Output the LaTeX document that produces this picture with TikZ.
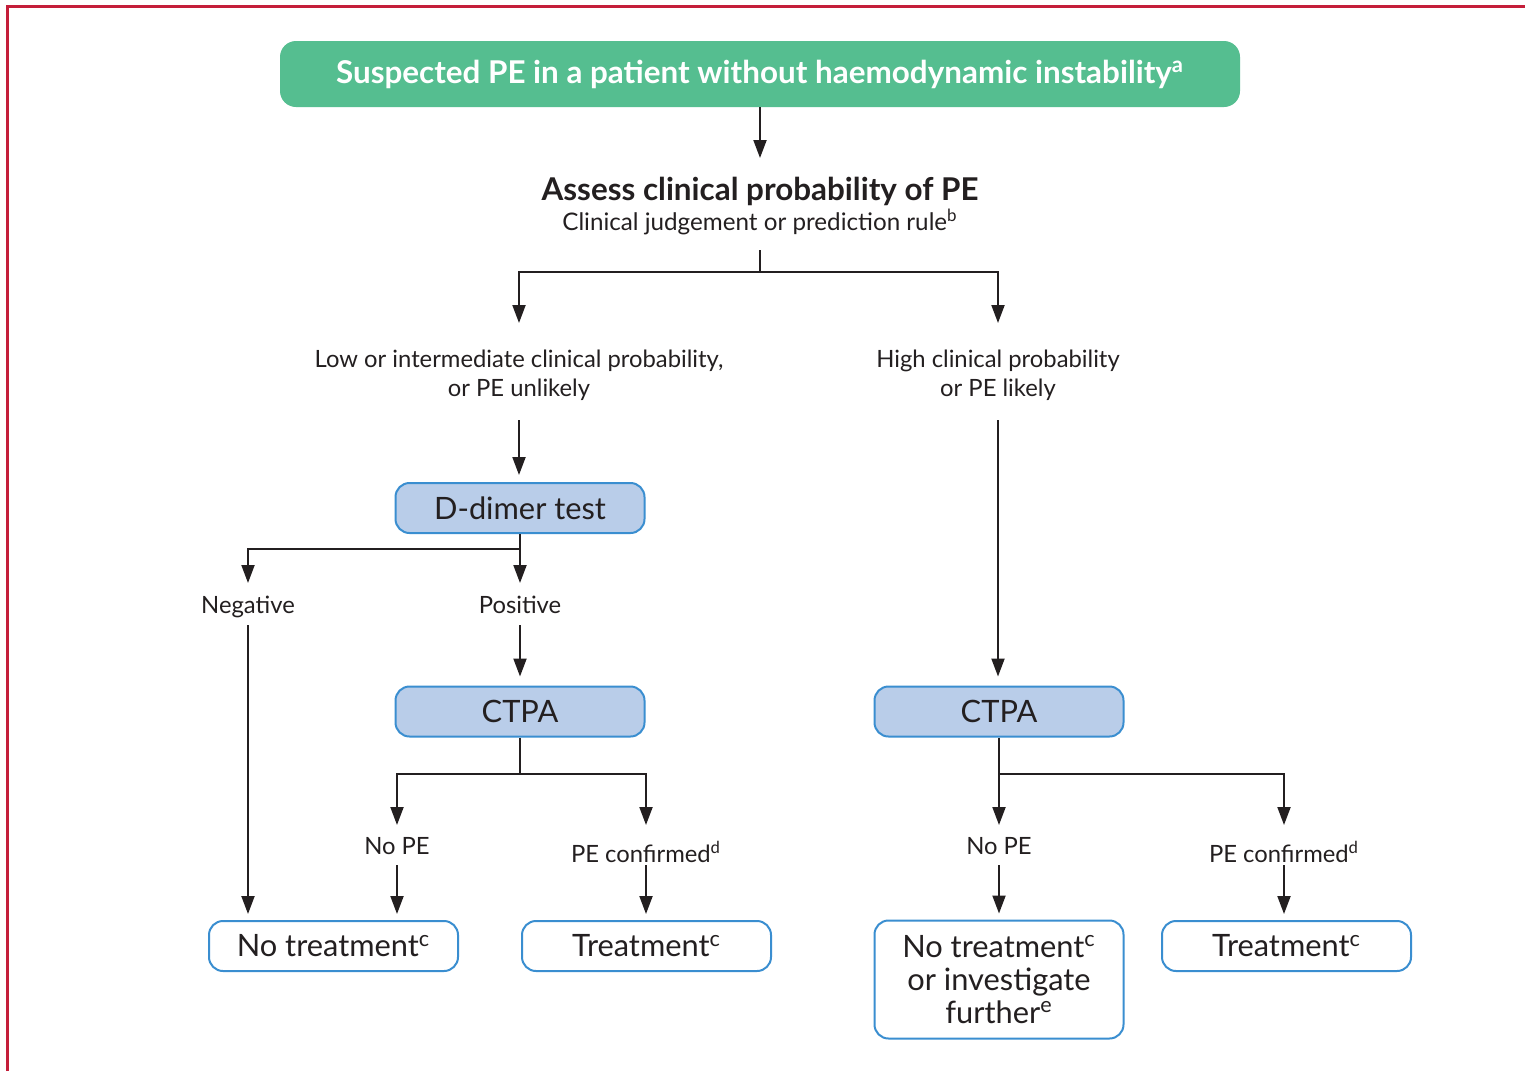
\documentclass[tikz,border=0pt]{standalone}
\usepackage{fontspec}
\setmainfont{Lato}
\usetikzlibrary{arrows.meta}
\definecolor{frameRed}{HTML}{C41E3A}
\definecolor{peGreen}{HTML}{55BE90}
\definecolor{boxFill}{HTML}{B9CDE9}
\definecolor{boxLine}{HTML}{3A8ED0}
\definecolor{ink}{HTML}{231F20}
\tikzset{
  arr/.style={draw=ink, line width=1pt, -{Triangle[length=9pt,width=6.5pt]}},
  ln/.style={draw=ink, line width=1pt},
  titlebox/.style={rectangle, rounded corners=8pt, fill=peGreen, draw=none,
    minimum width=480pt, minimum height=33pt, inner sep=0pt, text=white,
    font=\bfseries\fontsize{15.7}{18}\selectfont},
  bluebox/.style={rectangle, rounded corners=7pt, draw=boxLine, line width=1pt,
    fill=boxFill, minimum width=124.5pt, minimum height=25pt, inner sep=0pt,
    text=ink, align=center, font=\fontsize{15.4}{16.5}\selectfont},
  whitebox/.style={bluebox, fill=white},
  lbl/.style={font=\fontsize{11.9}{14.5}\selectfont, text=ink, align=center,
    inner sep=0pt, anchor=base},
}
\begin{document}
\begin{tikzpicture}[x=0.5pt,y=-0.5pt]
\useasboundingbox (0,0) rectangle (1525,1071);
\fill[white] (0,0) rectangle (1525,1071);
\draw[frameRed, line width=1.5pt] (7.5,1071) -- (7.5,6) -- (1525,6);

% top
\node[titlebox] (title) at (760,74) {Suspected PE in a patient without haemodynamic instability\textsuperscript{a}};
\node[anchor=base, inner sep=0pt, text=ink, font=\bfseries\fontsize{15.7}{18}\selectfont] (assess) at (760,200) {Assess clinical probability of PE};
\node[anchor=base, inner sep=0pt, text=ink, font=\fontsize{12.1}{14}\selectfont] (assessSub) at (760,230) {Clinical judgement or prediction rule\textsuperscript{b}};
\coordinate (assessIn) at (760,158);
\coordinate (j1) at (760,250);
\coordinate (j1m) at (760,272);
\coordinate (lowIn) at (519,323);
\coordinate (highIn) at (998,323);

\draw[arr] (title.south) -- (assessIn);
\draw[ln] (j1) -- (j1m);
\draw[arr] (j1m) -| (lowIn);
\draw[arr] (j1m) -| (highIn);

% probability labels (base = baseline of last line)
\node[lbl] (low) at (519,396) {Low or intermediate clinical probability,\\or PE unlikely};
\node[lbl] (high) at (998,396) {High clinical probability\\or PE likely};
\coordinate (lowOut) at (519,420);
\coordinate (highOut) at (998,420);

% left column
\node[bluebox] (ddimer) at (520,508) {D-dimer test};
\draw[arr, shorten >=3.5pt] (lowOut) -- (lowOut |- ddimer.north);
\coordinate (dj) at (520,549);
\coordinate (negIn) at (248,583);
\coordinate (posIn) at (520,583);
\draw[ln] (ddimer.south) -- (dj);
\draw[arr] (dj) -| (negIn);
\draw[arr] (dj) -- (posIn);
\node[lbl] (neg) at (248,613) {Negative};
\node[lbl] (pos) at (520,613) {Positive};
\coordinate (negOut) at (248,625);
\coordinate (posOut) at (520,625);

\node[bluebox] (ctpaL) at (520,711.5) {CTPA};
\draw[arr, shorten >=4.5pt] (posOut) -- (ctpaL.north);
\coordinate (cjL) at (520,774);
\coordinate (nopeLIn) at (397,825);
\coordinate (pecLIn) at (646,825);
\draw[ln] (ctpaL.south) -- (cjL);
\draw[arr] (cjL) -| (nopeLIn);
\draw[arr] (cjL) -| (pecLIn);
\node[lbl] (nopeL) at (397,854) {No PE};
\node[lbl] (pecL) at (646,862) {PE confirmed\textsuperscript{d}};
\coordinate (nopeLOut) at (397,865);
\coordinate (pecLOut) at (646,865);

\node[whitebox] (notreatL) at (333.5,946) {No treatment\textsuperscript{c}};
\node[whitebox] (treatL) at (646.5,946) {Treatment\textsuperscript{c}};
\draw[arr, shorten >=3pt] (negOut) -- (negOut |- notreatL.north);
\draw[arr, shorten >=3pt] (nopeLOut) -- (nopeLOut |- notreatL.north);
\draw[arr, shorten >=3pt] (pecLOut) -- (pecLOut |- treatL.north);

% right column
\node[bluebox] (ctpaR) at (999,711.5) {CTPA};
\draw[arr, shorten >=4.5pt] (highOut) -- (highOut |- ctpaR.north);
\coordinate (cjR) at (999,774);
\coordinate (nopeRIn) at (999,825);
\coordinate (pecRIn) at (1284,825);
\draw[ln] (ctpaR.south) -- (cjR);
\draw[arr] (cjR) -- (nopeRIn);
\draw[arr] (cjR) -| (pecRIn);
\node[lbl] (nopeR) at (999,854) {No PE};
\node[lbl] (pecR) at (1284,862) {PE confirmed\textsuperscript{d}};
\coordinate (nopeROut) at (999,865);
\coordinate (pecROut) at (1284,865);

\node[whitebox, minimum height=59pt] (notreatR) at (999,979.5) {No treatment\textsuperscript{c}\\or investigate\\further\textsuperscript{e}};
\node[whitebox] (treatR) at (1286.5,946) {Treatment\textsuperscript{c}};
\draw[arr, shorten >=3pt] (nopeROut) -- (nopeROut |- notreatR.north);
\draw[arr, shorten >=3pt] (pecROut) -- (pecROut |- treatR.north);
\end{tikzpicture}
\end{document}
